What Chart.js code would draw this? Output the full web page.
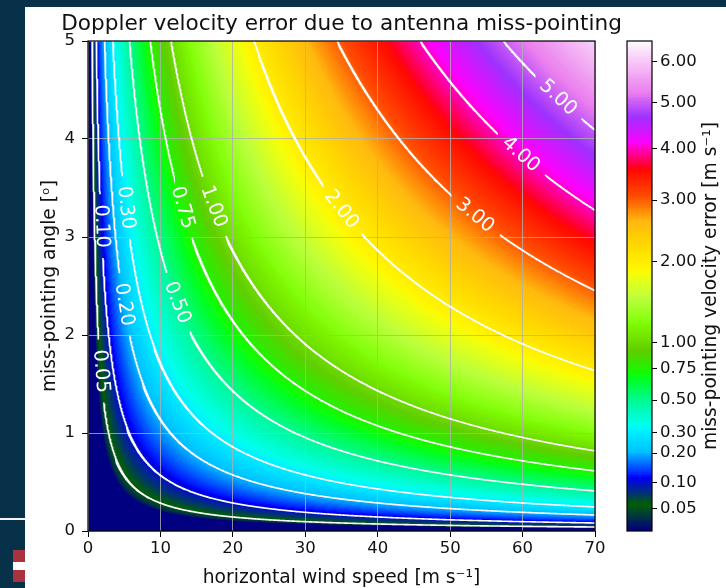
<!DOCTYPE html>
<html>
<head>
<meta charset="utf-8">
<title>Doppler velocity error</title>
<script src="https://cdn.jsdelivr.net/npm/chart.js@4.4.1/dist/chart.umd.min.js"></script>
<style>
    html, body { margin: 0; padding: 0; }
    body {
        width: 726px; height: 588px; overflow: hidden; position: relative;
        background: #063149;
        font-family: 'DejaVu Sans', sans-serif;
    }
    #panel { position: absolute; left: 25px; top: 7px; width: 701px; height: 581px; background: #fff; }
    #mainWrap { position: absolute; left: 25px; top: 7px; }
    #cbarWrap { position: absolute; left: 600px; top: 7px; }
    .rule { position: absolute; left: 0; top: 518px; width: 25px; height: 2px; background: #f4f4f4; }
    .flag {
        position: absolute; left: 13px; top: 550px; width: 12px; height: 32px;
        background: linear-gradient(#a8323e 0 12px, #fff 12px 20px, #a8323e 20px 32px);
    }
</style>
</head>
<body>
<div class="rule"></div>
<div class="flag"></div>
<div id="panel"></div>
<div id="mainWrap"><canvas id="errorChart" width="634" height="581"></canvas></div>
<div id="cbarWrap"><canvas id="colorbar" width="126" height="581"></canvas></div>

<script>
// ============================================
// DOPPLER VELOCITY ERROR - FIELD, CONTOURS, COLORBAR
// ============================================

// error field on a wind speed x angle grid (rows = angle, cols = wind speed)
const windSpeed = [0, 10, 20, 30, 40, 50, 60, 70];
const missAngle = [0, 1, 2, 3, 4, 5];
const velocityError = [
    [0, 0.000, 0.000, 0.000, 0.000, 0.000, 0.000, 0.000],
    [0, 0.175, 0.349, 0.524, 0.698, 0.873, 1.047, 1.222],
    [0, 0.349, 0.698, 1.047, 1.396, 1.745, 2.094, 2.443],
    [0, 0.523, 1.047, 1.570, 2.093, 2.617, 3.140, 3.664],
    [0, 0.698, 1.395, 2.093, 2.790, 3.488, 4.185, 4.883],
    [0, 0.872, 1.743, 2.615, 3.486, 4.358, 5.229, 6.101]
];

const contourLevels = [0.05, 0.10, 0.20, 0.30, 0.50, 0.75, 1.00, 2.00, 3.00, 4.00, 5.00];
const xTicks = [0, 10, 20, 30, 40, 50, 60, 70];
const yTicks = [0, 1, 2, 3, 4, 5];
const colorbarTicks = [0.05, 0.10, 0.20, 0.30, 0.50, 0.75, 1.00, 2.00, 3.00, 4.00, 5.00, 6.00];

// power norm used for the colour scale
const normMin = 0.036;
const normMax = 6.54;
const normGamma = 0.5;

// angle (deg) at which each contour gets its inline label
const labelAnchorAngle = [1.63, 3.11, 2.31, 3.30, 2.33, 3.30, 3.31, 3.28, 3.22, 3.84, 4.42];

const FONT = "'DejaVu Sans', sans-serif";
const TEXT = '#111';
const TITLE = 'Doppler velocity error due to antenna miss-pointing';

// gist_ncar segment data
const gistNcar = {
    r: [[0, 0], [0.3098, 0], [0.3725, 0.3993], [0.4235, 0.5003], [0.5333, 1], [0.7922, 1],
        [0.8471, 0.6218], [0.8980, 0.9235], [1, 0.9961]],
    g: [[0, 0], [0.0510, 0.3722], [0.1059, 0], [0.1569, 0.7202], [0.1608, 0.7537], [0.1647, 0.7752],
        [0.2157, 1], [0.2588, 0.9804], [0.2706, 0.9804], [0.3176, 1], [0.3686, 0.8081], [0.4275, 1],
        [0.5216, 1], [0.6314, 0.7292], [0.6863, 0.2796], [0.7451, 0], [0.7922, 0], [0.8431, 0.1753],
        [0.8980, 0.5], [1, 0.9725]],
    b: [[0, 0.5020], [0.0510, 0.0222], [0.1098, 1], [0.2039, 1], [0.2627, 0.6145], [0.3216, 0],
        [0.4157, 0], [0.4745, 0.2342], [0.5333, 0], [0.5804, 0], [0.6314, 0.0549], [0.6902, 0],
        [0.7373, 0], [0.7922, 0.9738], [0.8000, 1], [0.8431, 1], [0.8980, 0.9341], [1, 0.9961]]
};

function channel(nodes, t) {
    for (let i = 1; i < nodes.length; i++) {
        if (t <= nodes[i][0]) {
            const [x0, y0] = nodes[i - 1], [x1, y1] = nodes[i];
            return y0 + (y1 - y0) * (t - x0) / (x1 - x0);
        }
    }
    return nodes[nodes.length - 1][1];
}

const lut = [];
for (let i = 0; i < 256; i++) {
    const t = i / 255;
    lut.push([channel(gistNcar.r, t), channel(gistNcar.g, t), channel(gistNcar.b, t)].map(c => Math.round(c * 255)));
}

function colorFor(p) {
    return lut[Math.max(0, Math.min(255, Math.floor(p * 256)))];
}

function powerNorm(v) {
    if (v <= normMin) return 0;
    return Math.min(1, Math.pow((v - normMin) / (normMax - normMin), normGamma));
}

function locate(arr, v) {
    let i = 0;
    while (i < arr.length - 2 && v > arr[i + 1]) i++;
    const t = (v - arr[i]) / (arr[i + 1] - arr[i]);
    return [i, Math.min(1, Math.max(0, t))];
}

// bilinear lookup in the grid
function fieldAt(u, a) {
    const [i, tx] = locate(windSpeed, u);
    const [j, ty] = locate(missAngle, a);
    const lo = velocityError[j], hi = velocityError[j + 1];
    const bottom = lo[i] * (1 - tx) + lo[i + 1] * tx;
    const top = hi[i] * (1 - tx) + hi[i + 1] * tx;
    return bottom * (1 - ty) + top * ty;
}

function solve(f, lo, hi, level) {
    for (let k = 0; k < 40; k++) {
        const m = (lo + hi) / 2;
        if (f(m) < level) lo = m; else hi = m;
    }
    return (lo + hi) / 2;
}

// iso-line of the grid, sampled along both axes so steep parts stay smooth
function traceContour(level) {
    const uMax = windSpeed[windSpeed.length - 1];
    const aMax = missAngle[missAngle.length - 1];
    const pts = [];
    for (let k = 1; k <= 1400; k++) {
        const u = k * uMax / 1400;
        if (fieldAt(u, aMax) < level) continue;
        pts.push({ x: u, y: solve(a => fieldAt(u, a), 0, aMax, level) });
    }
    for (let k = 1; k <= 1000; k++) {
        const a = k * aMax / 1000;
        if (fieldAt(uMax, a) < level) continue;
        pts.push({ x: solve(u => fieldAt(u, a), 0, uMax, level), y: a });
    }
    pts.sort((p, q) => p.x - q.x || q.y - p.y);
    return pts;
}

// -------- main plot --------
const labelFont = '19.5px ' + FONT;
let labelGeom = [];

const fieldImage = {
    id: 'fieldImage',
    beforeDraw(chart) {
        const { ctx, chartArea: area, scales: { x, y } } = chart;
        const left = Math.floor(area.left), top = Math.floor(area.top);
        const w = Math.ceil(area.right) - left, h = Math.ceil(area.bottom) - top;
        const img = ctx.createImageData(w, h);
        const angles = [];
        for (let j = 0; j < h; j++) angles.push(y.getValueForPixel(top + j + 0.5));
        for (let i = 0; i < w; i++) {
            const u = x.getValueForPixel(left + i + 0.5);
            for (let j = 0; j < h; j++) {
                const c = colorFor(powerNorm(fieldAt(u, angles[j])));
                const k = (j * w + i) * 4;
                img.data[k] = c[0];
                img.data[k + 1] = c[1];
                img.data[k + 2] = c[2];
                img.data[k + 3] = 255;
            }
        }
        const off = document.createElement('canvas');
        off.width = w;
        off.height = h;
        off.getContext('2d').putImageData(img, 0, 0);
        ctx.save();
        ctx.beginPath();
        ctx.rect(area.left, area.top, area.right - area.left, area.bottom - area.top);
        ctx.clip();
        ctx.drawImage(off, left, top);
        ctx.restore();
    }
};

const contourLabels = {
    id: 'contourLabels',
    afterLayout(chart) {
        const { ctx, scales: { x, y } } = chart;
        const fp = (X, Y) => fieldAt(x.getValueForPixel(X), y.getValueForPixel(Y));
        ctx.save();
        ctx.font = labelFont;
        labelGeom = contourLevels.map((level, i) => {
            const a = labelAnchorAngle[i];
            const u = solve(uu => fieldAt(uu, a), 0, 70, level);
            const px = x.getPixelForValue(u), py = y.getPixelForValue(a);
            const gx = fp(px + 1, py) - fp(px - 1, py);
            const gy = fp(px, py + 1) - fp(px, py - 1);
            let tx = gy, ty = -gx;
            if (tx < 0) { tx = -tx; ty = -ty; }
            const text = level.toFixed(2);
            const width = ctx.measureText(text).width;
            return { x: px, y: py, rot: Math.atan2(ty, tx), text: text, r: width / 2 + 10 };
        });
        ctx.restore();
    },
    afterDatasetsDraw(chart) {
        const ctx = chart.ctx;
        ctx.save();
        ctx.font = labelFont;
        ctx.fillStyle = '#fff';
        ctx.textAlign = 'center';
        ctx.textBaseline = 'middle';
        labelGeom.forEach(g => {
            ctx.save();
            ctx.translate(g.x, g.y);
            ctx.rotate(g.rot);
            ctx.fillText(g.text, 0, 0);
            ctx.restore();
        });
        ctx.restore();
    },
    afterDraw(chart) {
        const { ctx, chartArea: a } = chart;
        ctx.save();
        ctx.strokeStyle = '#000';
        ctx.lineWidth = 1.2;
        ctx.strokeRect(a.left, a.top, a.right - a.left, a.bottom - a.top);
        // title centred over the plot area
        ctx.fillStyle = TEXT;
        ctx.font = '21.6px ' + FONT;
        ctx.textAlign = 'center';
        ctx.textBaseline = 'alphabetic';
        ctx.fillText(TITLE, (a.left + a.right) / 2, 23);
        ctx.restore();
    }
};

function gapColor(index) {
    return c => {
        const g = labelGeom[index];
        if (!g) return '#fff';
        const mx = (c.p0.x + c.p1.x) / 2, my = (c.p0.y + c.p1.y) / 2;
        return Math.hypot(mx - g.x, my - g.y) < g.r ? 'rgba(255,255,255,0)' : '#fff';
    };
}

new Chart(document.getElementById('errorChart'), {
    type: 'scatter',
    data: {
        datasets: contourLevels.map((level, i) => ({
            label: level.toFixed(2),
            data: traceContour(level),
            showLine: true,
            pointRadius: 0,
            borderColor: '#fff',
            borderWidth: 1.6,
            segment: { borderColor: gapColor(i) }
        }))
    },
    options: {
        responsive: false,
        animation: false,
        events: [],
        layout: { padding: { left: 0, top: 34, right: 64, bottom: 0 } },
        plugins: {
            legend: { display: false },
            tooltip: { enabled: false },
            title: { display: false }
        },
        scales: {
            x: {
                type: 'linear',
                min: 0,
                max: 70,
                afterBuildTicks: s => { s.ticks = xTicks.map(v => ({ value: v })); },
                afterFit: s => { s.height = 57; },
                grid: { color: '#b0b0b0', lineWidth: 0.8, tickColor: '#000', tickLength: 6, tickWidth: 1 },
                border: { display: false },
                ticks: { color: TEXT, padding: 1.5, font: { family: FONT, size: 16.5 }, callback: v => String(v) },
                title: {
                    display: true,
                    text: 'horizontal wind speed [m s⁻¹]',
                    color: TEXT,
                    font: { family: FONT, size: 18.7, lineHeight: 1.1 },
                    padding: { top: 0, bottom: 0 }
                }
            },
            y: {
                type: 'linear',
                min: 0,
                max: 5,
                afterBuildTicks: s => { s.ticks = yTicks.map(v => ({ value: v })); },
                afterFit: s => { s.width = 63; },
                grid: { color: '#b0b0b0', lineWidth: 0.8, tickColor: '#000', tickLength: 6, tickWidth: 1 },
                border: { display: false },
                ticks: { color: TEXT, padding: 7, font: { family: FONT, size: 16.5 }, callback: v => String(v) },
                title: {
                    display: true,
                    text: 'miss-pointing angle [ᵒ]',
                    color: TEXT,
                    font: { family: FONT, size: 18.7 },
                    padding: { top: 13.8, bottom: 0 }
                }
            }
        }
    },
    plugins: [fieldImage, contourLabels]
});

// -------- colorbar --------
const colorbarFill = {
    id: 'colorbarFill',
    beforeDraw(chart) {
        const { ctx, chartArea: a, scales: { y } } = chart;
        for (let py = Math.floor(a.top); py < Math.ceil(a.bottom); py++) {
            const c = colorFor(y.getValueForPixel(py + 0.5));
            ctx.fillStyle = 'rgb(' + c[0] + ',' + c[1] + ',' + c[2] + ')';
            ctx.fillRect(a.left, py, a.right - a.left, 1);
        }
    },
    afterDraw(chart) {
        const { ctx, chartArea: a } = chart;
        ctx.save();
        ctx.strokeStyle = '#000';
        ctx.lineWidth = 1.2;
        ctx.strokeRect(a.left, a.top, a.right - a.left, a.bottom - a.top);
        ctx.translate(111, (a.top + a.bottom) / 2);
        ctx.rotate(-Math.PI / 2);
        ctx.fillStyle = TEXT;
        ctx.font = '18.7px ' + FONT;
        ctx.textAlign = 'center';
        ctx.textBaseline = 'middle';
        ctx.fillText('miss-pointing velocity error [m s⁻¹]', 0, 0);
        ctx.restore();
    }
};

new Chart(document.getElementById('colorbar'), {
    type: 'scatter',
    data: { datasets: [] },
    options: {
        responsive: false,
        animation: false,
        events: [],
        layout: { padding: { left: 27, top: 34, right: 0, bottom: 57 } },
        plugins: { legend: { display: false }, tooltip: { enabled: false } },
        scales: {
            x: { display: false, min: 0, max: 1 },
            y: {
                position: 'right',
                min: 0,
                max: 1,
                afterBuildTicks: s => { s.ticks = colorbarTicks.map(v => ({ value: powerNorm(v) })); },
                afterFit: s => { s.width = 74; },
                grid: { drawOnChartArea: false, tickColor: '#000', tickLength: 5, tickWidth: 1 },
                border: { display: false },
                ticks: {
                    color: TEXT,
                    padding: 3,
                    font: { family: FONT, size: 16.5 },
                    callback: (v, i) => colorbarTicks[i].toFixed(2)
                }
            }
        }
    },
    plugins: [colorbarFill]
});
</script>
</body>
</html>
